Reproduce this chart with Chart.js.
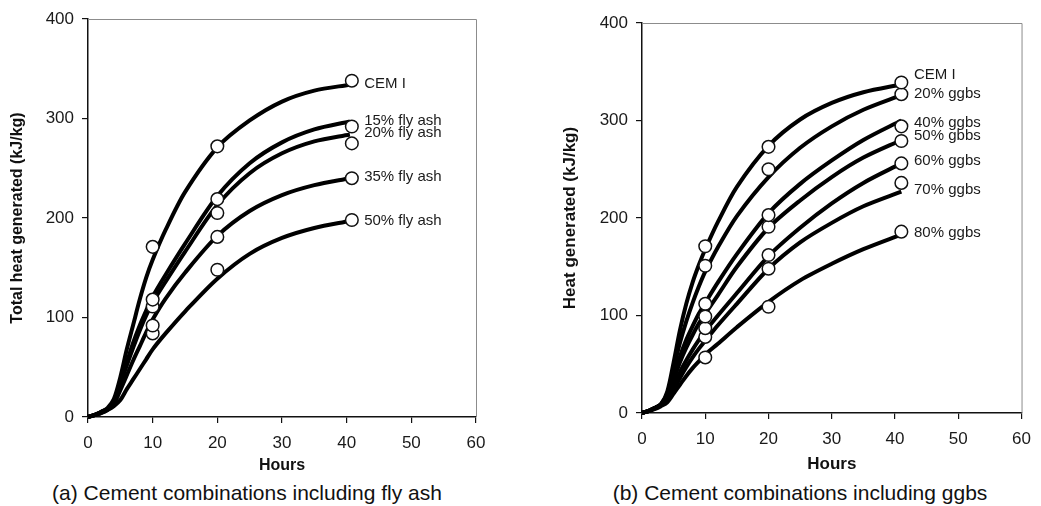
<!DOCTYPE html>
<html>
<head>
<meta charset="utf-8">
<script src="https://cdn.jsdelivr.net/npm/chart.js@4/dist/chart.umd.min.js"></script>
<style>
  html, body { margin: 0; padding: 0; background: #fff; }
  body { width: 1041px; height: 506px; position: relative; overflow: hidden; font-family: "Liberation Sans", Arial, sans-serif; }
  .wrap { position: absolute; top: 0; }
  .cap { position: absolute; top: 480px; font-size: 21px; color: #111; white-space: nowrap; transform: translateX(-50%); line-height: 26px; }
</style>
</head>
<body>
<div class="wrap" style="left:0px"><canvas id="c1" width="520" height="480"></canvas></div>
<div class="wrap" style="left:521px"><canvas id="c2" width="520" height="480"></canvas></div>
<div class="cap" style="left:247px">(a) Cement combinations including fly ash</div>
<div class="cap" style="left:800px">(b) Cement combinations including ggbs</div>
<script>
// ---------- Data: (a) fly ash ----------
const curveHoursA = [0,1,2,3,4,5,6,7,8,9,10,12,15,20,25,30,35,40.5];
const cemA      = [0,2,5,9,18,40,68,93,118,140,158,188,226,271,298,317,328,334];
const fa15      = [0,2,5,8,16,35,55,75,92,107,121,143,174,222,255,276,289,297];
const fa20      = [0,2,5,8,15,33,52,70,87,102,115,136,166,213,245,265,277,284];
const fa35      = [0,2,4,7,13,27,42,57,71,85,98,119,145,182,207,223,233,240];
const fa50      = [0,2,4,7,11,17,28,38,48,58,68,84,106,139,164,180,190,197];
const pointHoursA = [10,20,40.8];
const cemAPts   = [171,272,338];
const fa15Pts   = [118,219,292];
const fa20Pts   = [111,205,275];
const fa35Pts   = [92,181,240];
const fa50Pts   = [84,148,198];
const seriesNamesA = ["CEM I","15% fly ash","20% fly ash","35% fly ash","50% fly ash"];
const labelValuesA = [335,298,286,241,197];

// ---------- Data: (b) ggbs ----------
const curveHoursB = [0,1,2,3,4,5,6,7,8,9,10,12,15,20,25,30,35,41];
const cemB      = [0,2,5,9,22,52,85,112,134,152,168,196,232,274,301,318,329,337];
const gg20      = [0,2,5,9,20,46,72,94,113,130,145,170,202,242,272,294,311,326];
const gg40      = [0,2,5,9,18,38,58,75,89,102,113,134,163,205,235,259,280,300];
const gg50      = [0,2,5,8,16,34,52,67,80,92,102,121,150,190,218,242,262,280];
const gg60      = [0,2,5,8,14,28,42,54,65,75,84,100,123,161,190,215,236,256];
const gg70      = [0,2,5,8,13,24,36,47,57,66,74,90,112,148,175,195,212,227];
const gg80      = [0,2,4,7,11,20,29,38,46,53,60,71,88,114,136,153,168,183];
const pointHoursB = [10,20,41];
const cemBPts   = [171,273,339];
const gg20Pts   = [151,250,327];
const gg40Pts   = [112,203,294];
const gg50Pts   = [99,191,279];
const gg60Pts   = [87,162,256];
const gg70Pts   = [78,148,236];
const gg80Pts   = [57,109,186];
const seriesNamesB = ["CEM I","20% ggbs","40% ggbs","50% gbbs","60% ggbs","70% ggbs","80% ggbs"];
const labelValuesB = [347,327,298,284,259,229,185];

const xTicks = [0,10,20,30,40,50,60];
const yTicks = [0,100,200,300,400];

const FONT = '"Liberation Sans", Arial, sans-serif';

function lineDs(xs, ys) {
  return {
    type: 'line',
    data: xs.map((x, i) => ({x: x, y: ys[i]})),
    borderColor: '#000', borderWidth: 4, pointRadius: 0,
    tension: 0.3, fill: false, order: 2, clip: false
  };
}
function ptDs(xs, ys) {
  return {
    type: 'scatter',
    data: xs.map((x, i) => ({x: x, y: ys[i]})),
    showLine: false, pointRadius: 6.3, pointBackgroundColor: '#fff',
    pointBorderColor: '#111', pointBorderWidth: 1.5, order: 1, clip: false
  };
}

const boxPlugin = {
  id: 'box',
  beforeDatasetsDraw(chart) {
    const {ctx, chartArea: a} = chart;
    ctx.save();
    ctx.strokeStyle = '#8c8c8c'; ctx.lineWidth = 1;
    ctx.beginPath();
    ctx.moveTo(a.left, a.top + 0.5); ctx.lineTo(a.right + 0.5, a.top + 0.5); ctx.lineTo(a.right + 0.5, a.bottom);
    ctx.stroke();
    ctx.restore();
  }
};

function makeLabelPlugin(names, values, xVal, size) {
  return {
    id: 'endLabels',
    afterDatasetsDraw(chart) {
      const {ctx, scales} = chart;
      ctx.save();
      ctx.fillStyle = '#1a1a1a';
      ctx.font = size + 'px ' + FONT;
      ctx.textAlign = 'left'; ctx.textBaseline = 'middle';
      names.forEach((n, i) => ctx.fillText(n, scales.x.getPixelForValue(xVal), scales.y.getPixelForValue(values[i])));
      ctx.restore();
    }
  };
}

function makeChart(id, datasets, opts) {
  return new Chart(document.getElementById(id), {
    type: 'line',
    data: { datasets: datasets },
    options: {
      responsive: false, animation: false, devicePixelRatio: 1,
      layout: { padding: opts.padding },
      plugins: { legend: { display: false }, tooltip: { enabled: false } },
      scales: {
        x: {
          type: 'linear', min: 0, max: 60,
          afterBuildTicks: s => { s.ticks = xTicks.map(v => ({value: v})); },
          afterFit: s => { s.height = opts.xHeight; },
          grid: { drawOnChartArea: false, drawTicks: true, tickLength: 6, color: '#111', lineWidth: 1.2 },
          border: { display: true, color: '#111', width: 1.5 },
          ticks: { color: '#1a1a1a', font: { family: FONT, size: 17 }, padding: 10, maxRotation: 0 },
          title: { display: true, text: 'Hours', color: '#111', font: { family: FONT, size: opts.titleSize, weight: 'bold' }, padding: { top: 0, bottom: 5 } }
        },
        y: {
          type: 'linear', min: 0, max: 400,
          afterBuildTicks: s => { s.ticks = yTicks.map(v => ({value: v})); },
          afterFit: s => { s.width = opts.yWidth; },
          grid: { drawOnChartArea: false, drawTicks: true, tickLength: 6, color: '#111', lineWidth: 1.2 },
          border: { display: true, color: '#111', width: 1.5 },
          ticks: { color: '#1a1a1a', font: { family: FONT, size: 17 }, padding: 8 },
          title: { display: true, text: opts.yTitle, color: '#111', font: { family: FONT, size: opts.titleSize, weight: 'bold' }, padding: { top: opts.yTitlePad, bottom: 0 } }
        }
      }
    },
    plugins: [boxPlugin, opts.labels]
  });
}

makeChart('c1', [
  lineDs(curveHoursA, cemA), lineDs(curveHoursA, fa15), lineDs(curveHoursA, fa20),
  lineDs(curveHoursA, fa35), lineDs(curveHoursA, fa50),
  ptDs(pointHoursA, cemAPts), ptDs(pointHoursA, fa15Pts), ptDs(pointHoursA, fa20Pts),
  ptDs(pointHoursA, fa35Pts), ptDs(pointHoursA, fa50Pts)
], {
  padding: { left: 0, top: 19, right: 44, bottom: 0 },
  xHeight: 63, yWidth: 88, titleSize: 16, yTitlePad: 8,
  yTitle: 'Total heat generated (kJ/kg)',
  labels: makeLabelPlugin(seriesNamesA, labelValuesA, 42.7, 15)
});

makeChart('c2', [
  lineDs(curveHoursB, cemB), lineDs(curveHoursB, gg20), lineDs(curveHoursB, gg40),
  lineDs(curveHoursB, gg50), lineDs(curveHoursB, gg60), lineDs(curveHoursB, gg70), lineDs(curveHoursB, gg80),
  ptDs(pointHoursB, cemBPts), ptDs(pointHoursB, gg20Pts), ptDs(pointHoursB, gg40Pts),
  ptDs(pointHoursB, gg50Pts), ptDs(pointHoursB, gg60Pts), ptDs(pointHoursB, gg70Pts), ptDs(pointHoursB, gg80Pts)
], {
  padding: { left: 0, top: 23, right: 14, bottom: 0 },
  xHeight: 67, yWidth: 121, titleSize: 17, yTitlePad: 39,
  yTitle: 'Heat generated (kJ/kg)',
  labels: makeLabelPlugin(seriesNamesB, labelValuesB, 43, 15)
});
</script>
</body>
</html>
